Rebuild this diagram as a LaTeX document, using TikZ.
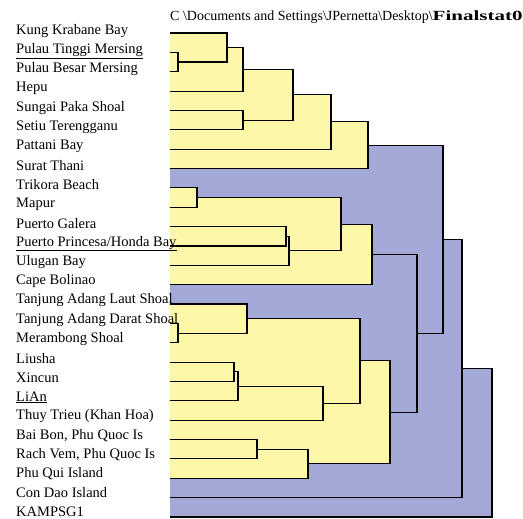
\documentclass[tikz,border=0pt]{standalone}
\usepackage{fontspec}
\setmainfont{Liberation Serif}
\usetikzlibrary{calc}
\usetikzlibrary{positioning}
\definecolor{clusteryellow}{RGB}{253,247,168}
\definecolor{clusterblue}{RGB}{164,168,214}
\tikzset{
	site/.style={anchor=west,inner sep=0pt,font=\fontsize{14.5}{16}\selectfont},
	link/.style={draw=black,line width=1.1pt},
}
% join two branches at a given x, halfway between them
\newcommand\joinat[4]{%
	\path let \p1=(#3), \p2=(#4) in coordinate (#1) at (#2pt,{(\y1+\y2)/2});
}

\begin{document}
\begin{tikzpicture}[x=1pt,y=-1pt]
	\useasboundingbox (0,0) rectangle (523,519);
	\foreach \i in {1,...,26}
		\coordinate (l\i) at (170,{33+(\i-1)*19.36});
	% first group
	\joinat{jTM}{178}{l2}{l3}
	\joinat{jKT}{227}{l1}{jTM}
	\joinat{jKH}{243}{jKT}{l4}
	\joinat{jSS}{243}{l5}{l6}
	\joinat{jA1}{293}{jKH}{jSS}
	\joinat{jA2}{331}{jA1}{l7}
	\joinat{jA}{368}{jA2}{l8}
	% second group
	\joinat{jTrM}{197}{l9}{l10}
	\joinat{jGP}{286}{l11}{l12}
	\joinat{jGU}{289}{jGP}{l13}
	\joinat{jB1}{341}{jTrM}{jGU}
	\joinat{jB}{372}{jB1}{l14}
	% third group
	\joinat{jDM}{178}{l16}{l17}
	\joinat{jTD}{247}{l15}{jDM}
	\joinat{jLX}{234}{l18}{l19}
	\joinat{jLL}{238}{jLX}{l20}
	\joinat{jLT}{323}{jLL}{l21}
	\joinat{jC1}{360}{jTD}{jLT}
	\joinat{jBR}{257}{l22}{l23}
	\joinat{jBP}{308}{jBR}{l24}
	\joinat{jC}{390}{jC1}{jBP}
	% top of the tree
	\joinat{jBC}{417}{jB}{jC}
	\joinat{jAll}{443}{jA}{jBC}
	\joinat{jCD}{462}{jAll}{l25}
	\joinat{root}{492}{jCD}{l26}
	% shading
	\fill[clusterblue] (l1) -| (jKT) -| (jKH) -| (jA1) -| (jA2) -| (jA) -| (jAll) -| (jCD) -| (root) |- (l26) -- cycle;
	\fill[clusteryellow] (l1) -| (jKT) -| (jKH) -| (jA1) -| (jA2) -| (jA) |- (l8) -- cycle;
	\fill[clusteryellow] (l9) -| (jTrM) -| (jB1) -| (jB) |- (l14) -- cycle;
	\fill[clusteryellow] (l15) -| (jTD) -| (jC1) -| (jC) |- (jBP) |- (l24) -- cycle;
	% labels
	\node[site,font=\fontsize{14}{16}\selectfont] (header) at (170,17) {C \textbackslash Documents and Settings\textbackslash JPernetta\textbackslash Desktop\textbackslash\scalebox{1.5}[1]{\textbf{Finalstat0}}};
	\foreach \site [count=\i] in {Kung Krabane Bay,Pulau Tinggi Mersing,Pulau Besar Mersing,Hepu,Sungai Paka Shoal,Setiu Terengganu,Pattani Bay,Surat Thani,Trikora Beach,Mapur,Puerto Galera,Puerto Princesa/Honda Bay,Ulugan Bay,Cape Bolinao,Tanjung Adang Laut Shoal,Tanjung Adang Darat Shoal,Merambong Shoal,Liusha,Xincun,LiAn,Thuy Trieu (Khan Hoa),{Bai Bon, Phu Quoc Is},{Rach Vem, Phu Quoc Is},Phu Qui Island,Con Dao Island,KAMPSG1}
		\node[site] (s\i) at (16,{31+(\i-1)*19.25}) {\site};
	% underlined sites
	\foreach \i in {2,12,20}
		\draw[line width=0.7pt] ([yshift=-1pt]s\i.south west) -- ([yshift=-1pt]s\i.south east);
	% branches
	\foreach \a/\j/\b in {l2/jTM/l3,l1/jKT/jTM,jKT/jKH/l4,l5/jSS/l6,jKH/jA1/jSS,jA1/jA2/l7,jA2/jA/l8,
		l9/jTrM/l10,l11/jGP/l12,jGP/jGU/l13,jTrM/jB1/jGU,jB1/jB/l14,
		l16/jDM/l17,l15/jTD/jDM,l18/jLX/l19,jLX/jLL/l20,jLL/jLT/l21,jTD/jC1/jLT,l22/jBR/l23,jBR/jBP/l24,jC1/jC/jBP,
		jB/jBC/jC,jA/jAll/jBC,jAll/jCD/l25,jCD/root/l26}
		\draw[link] (\a) -| (\j) |- (\b);
\end{tikzpicture}
\end{document}
